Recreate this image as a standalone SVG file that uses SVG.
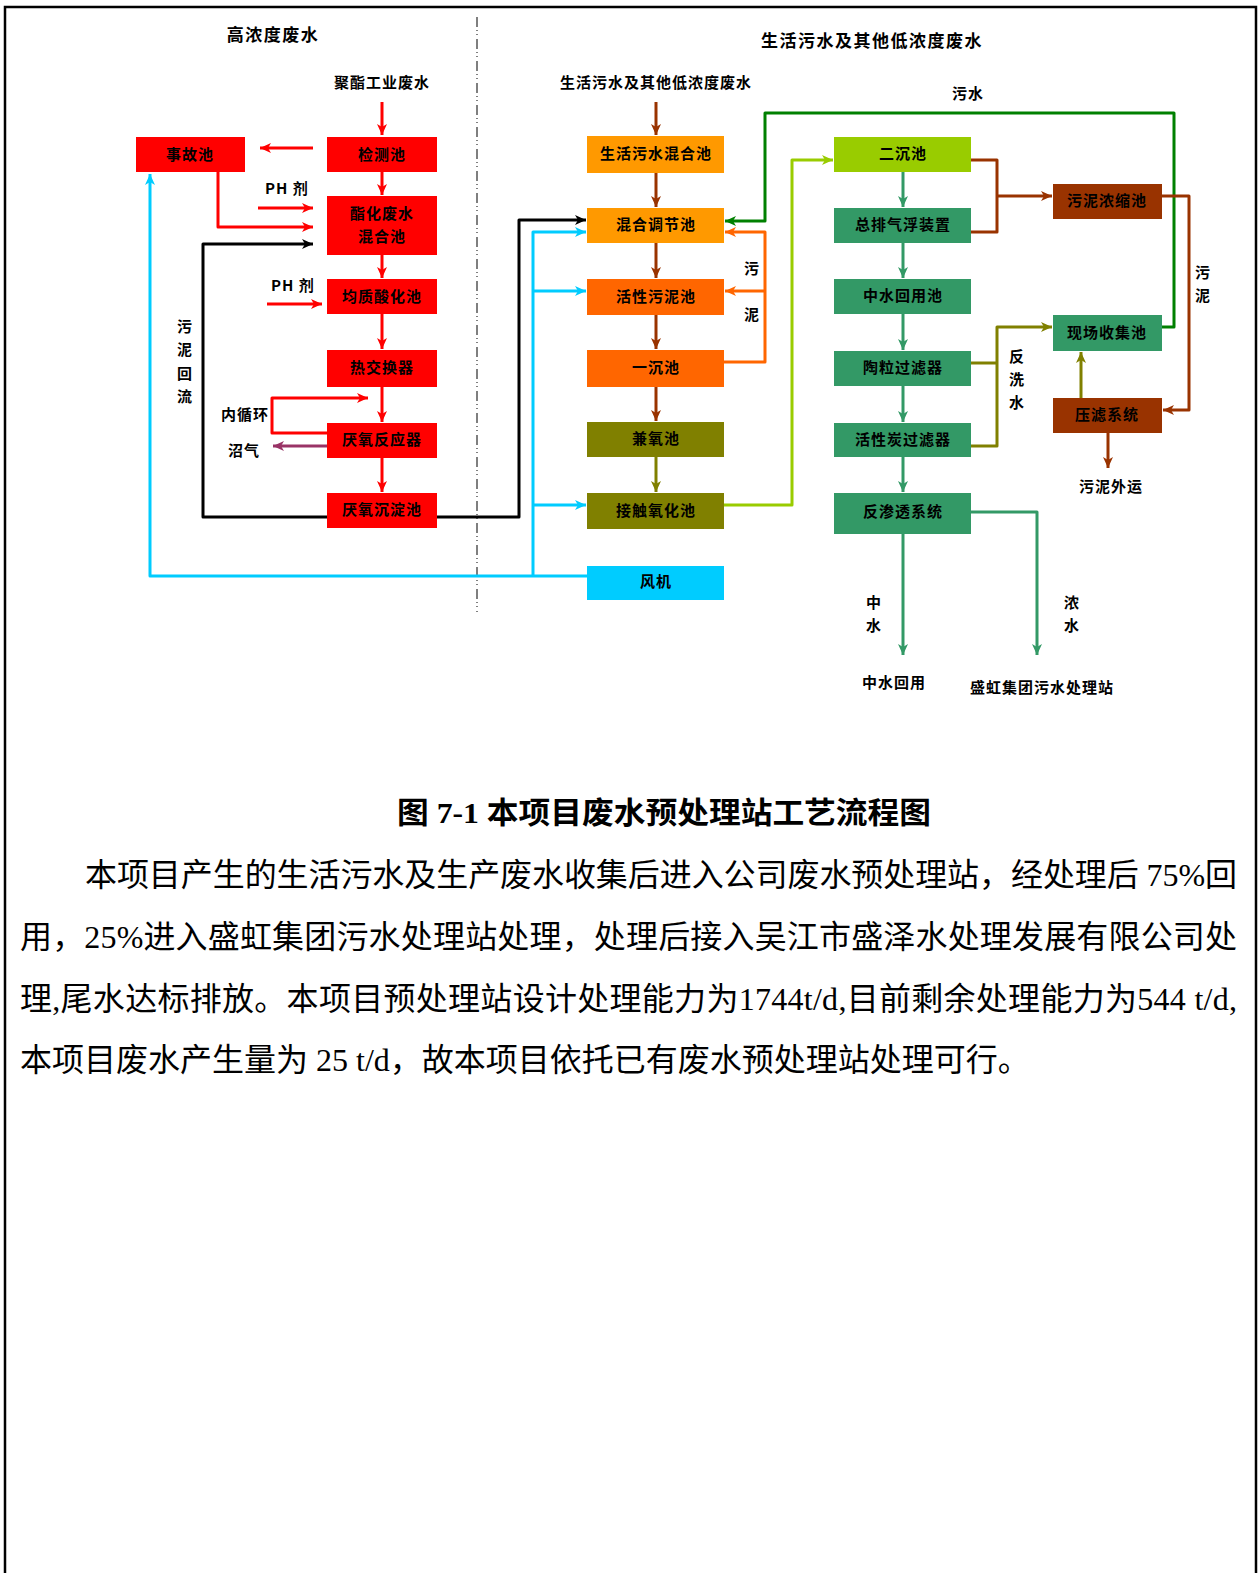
<svg xmlns="http://www.w3.org/2000/svg" width="1258" height="1573" viewBox="0 0 1258 1573">
<style>
.lbl{font-family:"Noto Sans CJK SC","Noto Sans",sans-serif;font-weight:bold;font-size:15px;letter-spacing:1px;fill:#000;text-anchor:middle;dominant-baseline:central;transform:translateY(-1.5px)}
.hdr{font-family:"Noto Sans CJK SC","Noto Sans",sans-serif;font-weight:bold;font-size:17px;letter-spacing:1.5px;fill:#000;text-anchor:middle;dominant-baseline:central;transform:translateY(-1.5px)}
.para{font-family:"Liberation Serif","Noto Sans CJK SC",serif;font-size:32px;fill:#000;dominant-baseline:central}
.cap{font-family:"Liberation Serif","Noto Sans CJK SC",serif;font-size:30px;font-weight:bold;fill:#000;dominant-baseline:central}
.c{fill:none;stroke-width:3;stroke-linejoin:round}
.red{stroke:#FF0000}.blk{stroke:#000}.cy{stroke:#00CCFF}.br{stroke:#993300}.ol{stroke:#808000}
.gr{stroke:#008000}.or{stroke:#FF6600}.lg{stroke:#99CC00}.sg{stroke:#339966}.pu{stroke:#993366}
</style>
<defs>
<marker id="aRed" markerUnits="userSpaceOnUse" markerWidth="12" markerHeight="10" refX="11" refY="5" orient="auto"><path d="M0,0 L11,5 L0,10 L3,5 Z" fill="#FF0000"/></marker>
<marker id="aBlk" markerUnits="userSpaceOnUse" markerWidth="12" markerHeight="10" refX="11" refY="5" orient="auto"><path d="M0,0 L11,5 L0,10 L3,5 Z" fill="#000"/></marker>
<marker id="aCy" markerUnits="userSpaceOnUse" markerWidth="12" markerHeight="10" refX="11" refY="5" orient="auto"><path d="M0,0 L11,5 L0,10 L3,5 Z" fill="#00CCFF"/></marker>
<marker id="aBr" markerUnits="userSpaceOnUse" markerWidth="12" markerHeight="10" refX="11" refY="5" orient="auto"><path d="M0,0 L11,5 L0,10 L3,5 Z" fill="#993300"/></marker>
<marker id="aOl" markerUnits="userSpaceOnUse" markerWidth="12" markerHeight="10" refX="11" refY="5" orient="auto"><path d="M0,0 L11,5 L0,10 L3,5 Z" fill="#808000"/></marker>
<marker id="aGr" markerUnits="userSpaceOnUse" markerWidth="12" markerHeight="10" refX="11" refY="5" orient="auto"><path d="M0,0 L11,5 L0,10 L3,5 Z" fill="#008000"/></marker>
<marker id="aOr" markerUnits="userSpaceOnUse" markerWidth="12" markerHeight="10" refX="11" refY="5" orient="auto"><path d="M0,0 L11,5 L0,10 L3,5 Z" fill="#FF6600"/></marker>
<marker id="aLg" markerUnits="userSpaceOnUse" markerWidth="12" markerHeight="10" refX="11" refY="5" orient="auto"><path d="M0,0 L11,5 L0,10 L3,5 Z" fill="#99CC00"/></marker>
<marker id="aSg" markerUnits="userSpaceOnUse" markerWidth="12" markerHeight="10" refX="11" refY="5" orient="auto"><path d="M0,0 L11,5 L0,10 L3,5 Z" fill="#339966"/></marker>
<marker id="aPu" markerUnits="userSpaceOnUse" markerWidth="12" markerHeight="10" refX="11" refY="5" orient="auto"><path d="M0,0 L11,5 L0,10 L3,5 Z" fill="#993366"/></marker>
</defs>
<rect x="0" y="0" width="1258" height="1573" fill="#fff"/>
<path d="M5,1573 V7 H1256 V1573" fill="none" stroke="#000" stroke-width="2.5"/>
<line x1="477" y1="17" x2="477" y2="612" stroke="#555" stroke-width="1.5" stroke-dasharray="10 3 1 3 1 4"/>

<g id="headers">
<text class="hdr" x="273" y="35">高浓度废水</text>
<text class="hdr" x="872" y="41">生活污水及其他低浓度废水</text>
</g>

<g id="connectors">
<path class="c red" d="M382,102 V135" marker-end="url(#aRed)"/>
<path class="c red" d="M313,148 H260" marker-end="url(#aRed)"/>
<path class="c red" d="M382,172 V195" marker-end="url(#aRed)"/>
<path class="c red" d="M258,208 H313" marker-end="url(#aRed)"/>
<path class="c red" d="M218,172 V227 H313" marker-end="url(#aRed)"/>
<path class="c red" d="M382,255 V278" marker-end="url(#aRed)"/>
<path class="c red" d="M267,304 H322" marker-end="url(#aRed)"/>
<path class="c red" d="M382,314 V349" marker-end="url(#aRed)"/>
<path class="c red" d="M382,387 V422" marker-end="url(#aRed)"/>
<path class="c red" d="M327,433 H272 V398 H368" marker-end="url(#aRed)"/>
<path class="c red" d="M382,458 V492" marker-end="url(#aRed)"/>
<path class="c pu" d="M327,446 H273" marker-end="url(#aPu)"/>
<path class="c blk" d="M327,517 H203 V244 H313" marker-end="url(#aBlk)"/>
<path class="c blk" d="M437,517 H519 V220 H586" marker-end="url(#aBlk)"/>
<path class="c cy" d="M587,576 H150 V174" marker-end="url(#aCy)"/>
<path class="c cy" d="M533,576 V232 H586" marker-end="url(#aCy)"/>
<path class="c cy" d="M533,291 H586" marker-end="url(#aCy)"/>
<path class="c cy" d="M533,505 H586" marker-end="url(#aCy)"/>
<path class="c br" d="M656,102 V135" marker-end="url(#aBr)"/>
<path class="c br" d="M656,173 V207" marker-end="url(#aBr)"/>
<path class="c br" d="M656,243 V278" marker-end="url(#aBr)"/>
<path class="c br" d="M656,315 V349" marker-end="url(#aBr)"/>
<path class="c br" d="M656,387 V421" marker-end="url(#aBr)"/>
<path class="c ol" d="M656,457 V492" marker-end="url(#aOl)"/>
<path class="c gr" d="M1162,327 H1174 V113 H765 V221 H725" marker-end="url(#aGr)"/>
<path class="c or" d="M724,362 H765 V232 H725" marker-end="url(#aOr)"/>
<path class="c or" d="M765,291 H725" marker-end="url(#aOr)"/>
<path class="c lg" d="M724,505 H792 V160 H833" marker-end="url(#aLg)"/>
<path class="c sg" d="M903,172 V207" marker-end="url(#aSg)"/>
<path class="c sg" d="M903,243 V278" marker-end="url(#aSg)"/>
<path class="c sg" d="M903,314 V350" marker-end="url(#aSg)"/>
<path class="c sg" d="M903,386 V422" marker-end="url(#aSg)"/>
<path class="c sg" d="M903,457 V492" marker-end="url(#aSg)"/>
<path class="c sg" d="M903,534 V655" marker-end="url(#aSg)"/>
<path class="c sg" d="M971,512 H1037 V655" marker-end="url(#aSg)"/>
<path class="c br" d="M971,160 H997 V232 H971"/>
<path class="c br" d="M997,196 H1052" marker-end="url(#aBr)"/>
<path class="c br" d="M1162,196 H1189 V410 H1163" marker-end="url(#aBr)"/>
<path class="c br" d="M1108,433 V468" marker-end="url(#aBr)"/>
<path class="c ol" d="M971,363 H997"/>
<path class="c ol" d="M971,446 H997 V327 H1052" marker-end="url(#aOl)"/>
<path class="c ol" d="M1081,398 V352" marker-end="url(#aOl)"/>
</g>

<g id="edge-labels">
<text class="lbl" x="382" y="83">聚酯工业废水</text>
<text class="lbl" x="656" y="83">生活污水及其他低浓度废水</text>
<text class="lbl" x="287" y="189">PH 剂</text>
<text class="lbl" x="293" y="286">PH 剂</text>
<text class="lbl" x="245" y="415">内循环</text>
<text class="lbl" x="244" y="451">沼气</text>
<text class="lbl" x="185" y="327">污</text>
<text class="lbl" x="185" y="350">泥</text>
<text class="lbl" x="185" y="374">回</text>
<text class="lbl" x="185" y="397">流</text>
<text class="lbl" x="752" y="269">污</text>
<text class="lbl" x="752" y="315">泥</text>
<text class="lbl" x="968" y="94">污水</text>
<text class="lbl" x="1203" y="273">污</text>
<text class="lbl" x="1203" y="296">泥</text>
<text class="lbl" x="1017" y="357">反</text>
<text class="lbl" x="1017" y="380">洗</text>
<text class="lbl" x="1017" y="403">水</text>
<text class="lbl" x="1111" y="487">污泥外运</text>
<text class="lbl" x="874" y="603">中</text>
<text class="lbl" x="874" y="626">水</text>
<text class="lbl" x="1072" y="603">浓</text>
<text class="lbl" x="1072" y="626">水</text>
<text class="lbl" x="894" y="683">中水回用</text>
<text class="lbl" x="1042" y="688">盛虹集团污水处理站</text>
</g>

<g id="n-shigu"><rect x="136" y="137" width="109" height="35" fill="#FF0000"/><text class="lbl" x="190" y="155">事故池</text></g>
<g id="n-jiance"><rect x="327" y="137" width="110" height="35" fill="#FF0000"/><text class="lbl" x="382" y="155">检测池</text></g>
<g id="n-zhihua"><rect x="327" y="196" width="110" height="59" fill="#FF0000"/><text class="lbl" x="382" y="214">酯化废水</text><text class="lbl" x="382" y="237">混合池</text></g>
<g id="n-junzhi"><rect x="327" y="279" width="110" height="35" fill="#FF0000"/><text class="lbl" x="382" y="297">均质酸化池</text></g>
<g id="n-rejiao"><rect x="327" y="350" width="110" height="37" fill="#FF0000"/><text class="lbl" x="382" y="368">热交换器</text></g>
<g id="n-yanyang"><rect x="327" y="423" width="110" height="35" fill="#FF0000"/><text class="lbl" x="382" y="440">厌氧反应器</text></g>
<g id="n-yanchen"><rect x="327" y="493" width="110" height="35" fill="#FF0000"/><text class="lbl" x="382" y="510">厌氧沉淀池</text></g>

<g id="n-shenghuo"><rect x="587" y="136" width="137" height="37" fill="#FF9900"/><text class="lbl" x="656" y="154">生活污水混合池</text></g>
<g id="n-tiaojie"><rect x="587" y="208" width="137" height="35" fill="#FF9900"/><text class="lbl" x="656" y="225">混合调节池</text></g>
<g id="n-huoxing"><rect x="587" y="279" width="137" height="36" fill="#FF6600"/><text class="lbl" x="656" y="297">活性污泥池</text></g>
<g id="n-yichen"><rect x="587" y="350" width="137" height="37" fill="#FF6600"/><text class="lbl" x="656" y="368">一沉池</text></g>
<g id="n-jianyang"><rect x="587" y="422" width="137" height="35" fill="#808000"/><text class="lbl" x="656" y="439">兼氧池</text></g>
<g id="n-jiechu"><rect x="587" y="493" width="137" height="36" fill="#808000"/><text class="lbl" x="656" y="511">接触氧化池</text></g>
<g id="n-fengji"><rect x="587" y="566" width="137" height="34" fill="#00CCFF"/><text class="lbl" x="656" y="582">风机</text></g>

<g id="n-erchen"><rect x="834" y="137" width="137" height="35" fill="#99CC00"/><text class="lbl" x="903" y="154">二沉池</text></g>
<g id="n-qifu"><rect x="834" y="208" width="137" height="35" fill="#339966"/><text class="lbl" x="903" y="225">总排气浮装置</text></g>
<g id="n-zhongshui"><rect x="834" y="279" width="137" height="35" fill="#339966"/><text class="lbl" x="903" y="296">中水回用池</text></g>
<g id="n-taoli"><rect x="834" y="351" width="137" height="35" fill="#339966"/><text class="lbl" x="903" y="368">陶粒过滤器</text></g>
<g id="n-tan"><rect x="834" y="423" width="137" height="34" fill="#339966"/><text class="lbl" x="903" y="440">活性炭过滤器</text></g>
<g id="n-shentou"><rect x="834" y="493" width="137" height="41" fill="#339966"/><text class="lbl" x="903" y="512">反渗透系统</text></g>
<g id="n-nongsuo"><rect x="1053" y="184" width="109" height="35" fill="#993300"/><text class="lbl" x="1107" y="201">污泥浓缩池</text></g>
<g id="n-shouji"><rect x="1053" y="315" width="109" height="36" fill="#339966"/><text class="lbl" x="1107" y="333">现场收集池</text></g>
<g id="n-yalv"><rect x="1053" y="398" width="109" height="35" fill="#993300"/><text class="lbl" x="1107" y="415">压滤系统</text></g>

<g id="caption">
<text class="cap" x="397" y="812" textLength="534" lengthAdjust="spacingAndGlyphs">图 7-1 本项目废水预处理站工艺流程图</text>
</g>
<g id="paragraph">
<text class="para" x="85" y="875" textLength="1152" lengthAdjust="spacing">本项目产生的生活污水及生产废水收集后进入公司废水预处理站，经处理后 75%回</text>
<text class="para" x="20" y="937" textLength="1217" lengthAdjust="spacing">用，25%进入盛虹集团污水处理站处理，处理后接入吴江市盛泽水处理发展有限公司处</text>
<text class="para" x="20" y="999" textLength="1217" lengthAdjust="spacing">理,尾水达标排放。本项目预处理站设计处理能力为1744t/d,目前剩余处理能力为544 t/d,</text>
<text class="para" x="20" y="1060">本项目废水产生量为 25 t/d，故本项目依托已有废水预处理站处理可行。</text>
</g>
</svg>
